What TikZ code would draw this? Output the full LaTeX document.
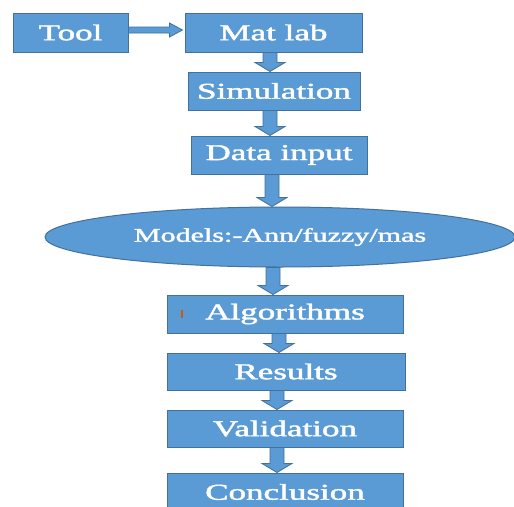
\documentclass[tikz,border=0pt]{standalone}
\usepackage{fontspec}
\usepackage{graphicx}
\newfontfamily\tnrfont[FakeBold=1.5]{Liberation Serif}
\newcommand{\widetext}[1]{\scalebox{1.55}[1]{#1}}
\usetikzlibrary{calc,shapes.geometric}
\definecolor{boxfill}{HTML}{5B9BD5}
\definecolor{boxline}{HTML}{41719C}
\definecolor{markorange}{HTML}{C55A11}
\tikzset{
  flowbox/.style={draw=boxline, fill=boxfill, line width=1pt, text=white, inner sep=0pt,
    font=\tnrfont\fontsize{22.6}{26}\selectfont},
  ellbox/.style={ellipse, draw=boxline, fill=boxfill, line width=1pt, text=white, inner sep=0pt,
    font=\tnrfont\fontsize{19.4}{22}\selectfont},
  blockarrow/.style={draw=boxline, fill=boxfill, line width=0.8pt, line join=miter},
  downarrow/.style={to path={let \p1=(\tikztostart), \p2=(\tikztotarget) in
    (\x1-7pt,\y1) -- (\x1-7pt,\y2+9pt) -- (\x1-15pt,\y2+9pt) -- (\x1,\y2)
    -- (\x1+15pt,\y2+9pt) -- (\x1+7pt,\y2+9pt) -- (\x1+7pt,\y1) -- cycle}},
  rightarrow/.style={to path={let \p1=(\tikztostart), \p2=(\tikztotarget) in
    (\x1,\y1+3pt) -- (\x2-13pt,\y1+3pt) -- (\x2-13pt,\y1+7pt) -- (\x2,\y1)
    -- (\x2-13pt,\y1-7pt) -- (\x2-13pt,\y1-3pt) -- (\x1,\y1-3pt) -- cycle}},
}
\begin{document}
\begin{tikzpicture}[x=1pt,y=-1pt]
  \useasboundingbox (0,0) rectangle (514,506);
  \clip (0,0) rectangle (514,506);
  \fill[white] (0,0) rectangle (514,506);

  \node[flowbox, minimum width=115pt, minimum height=39pt] (tool) at (70.5,32.5) {\widetext{Tool}};
  \node[flowbox, minimum width=177pt, minimum height=39pt] (matlab) at (273.5,32.5) {\widetext{Mat lab}};
  \node[flowbox, minimum width=172pt, minimum height=38pt] (sim) at (274,91) {\widetext{Simulation}};
  \node[flowbox, minimum width=176pt, minimum height=38pt] (data) at (279,155) {\widetext{Data input}};
  \node[ellbox, minimum width=470pt, minimum height=60pt] (models) at (280,237) {\widetext{Models:-Ann/fuzzy/mas}};
  \node[flowbox, minimum width=236pt, minimum height=38pt] (alg) at (285,314) {\widetext{Algorithms}};
  \node[flowbox, minimum width=238pt, minimum height=37pt] (res) at (286,371.5) {\widetext{Results}};
  \node[flowbox, minimum width=236pt, minimum height=37pt] (val) at (285,428.5) {\widetext{Validation}};
  \node[flowbox, minimum width=236pt, minimum height=38pt] (conc) at (285,492) {\widetext{Conclusion}};

  \draw[markorange, line width=1.5pt] (182,310) -- (182,318);

  \draw[blockarrow] ([yshift=2.5pt]tool.east) to[rightarrow] ([xshift=-2pt]matlab.west);
  \draw[blockarrow] ([xshift=-3.5pt]matlab.south) to[downarrow] (sim.north);
  \draw[blockarrow] ([xshift=-4pt]sim.south) to[downarrow] (data.north);
  \draw[blockarrow] ([xshift=-7pt]data.south) to[downarrow] (models.north);
  \draw[blockarrow] ([xshift=-7pt]models.south) to[downarrow] (alg.north);
  \draw[blockarrow] ([xshift=-6pt]alg.south) to[downarrow] (res.north);
  \draw[blockarrow] ([xshift=-9pt]res.south) to[downarrow] (val.north);
  \draw[blockarrow] ([xshift=-8pt]val.south) to[downarrow] (conc.north);
\end{tikzpicture}
\end{document}
